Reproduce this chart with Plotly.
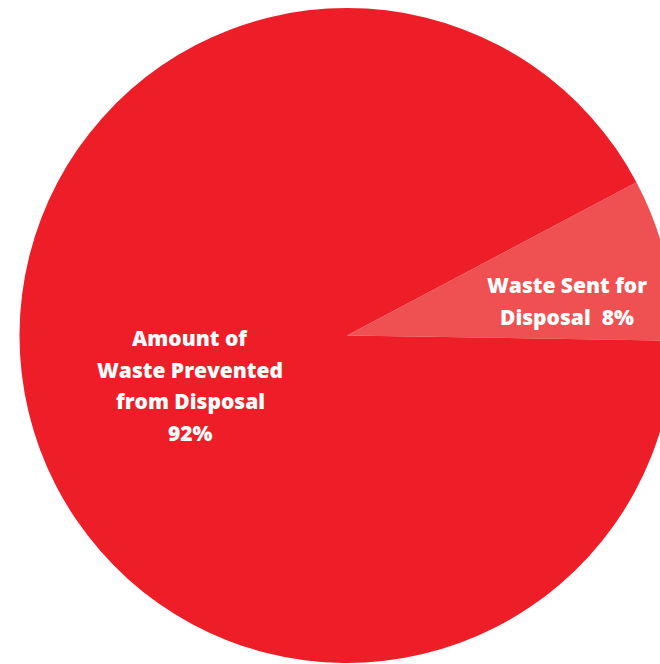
import plotly.graph_objects as go

labels = ["Waste Sent for Disposal", "Amount of Waste Prevented from Disposal"]
values = [8, 92]
colors = ["#EF5153", "#ED1E27"]
big_lines = ["Amount of", "Waste Prevented", "from Disposal", "92%"]
small_lines = ["Waste Sent for", "Disposal  8%"]

W, H = 680, 664
fig = go.Figure(go.Pie(
    labels=labels, values=values,
    textinfo="none",
    sort=False, direction="clockwise", rotation=62.1,
    marker=dict(colors=colors, line=dict(width=0)),
    domain=dict(x=[19.5 / W, 674.5 / W], y=[1 / H, 656 / H]),
    showlegend=False, hoverinfo="label+percent",
))

font = dict(family="Open Sans", size=21, color="white", weight=800)
for i, t in enumerate(big_lines):
    fig.add_annotation(text=t, x=190 / W, y=1 - (338 + 31.5 * i) / H, xref="paper", yref="paper",
                       xanchor="center", yanchor="middle", showarrow=False, font=font)
for i, t in enumerate(small_lines):
    fig.add_annotation(text=t, x=567 / W, y=1 - (285 + 31.5 * i) / H, xref="paper", yref="paper",
                       xanchor="center", yanchor="middle", showarrow=False, font=font)

fig.update_layout(width=W, height=H, margin=dict(l=0, r=0, t=0, b=0),
                  paper_bgcolor="white", plot_bgcolor="white")
fig.write_html("out.html", config=dict(displayModeBar=False),
               post_script="document.body.style.margin='0';document.body.style.overflow='hidden';")
